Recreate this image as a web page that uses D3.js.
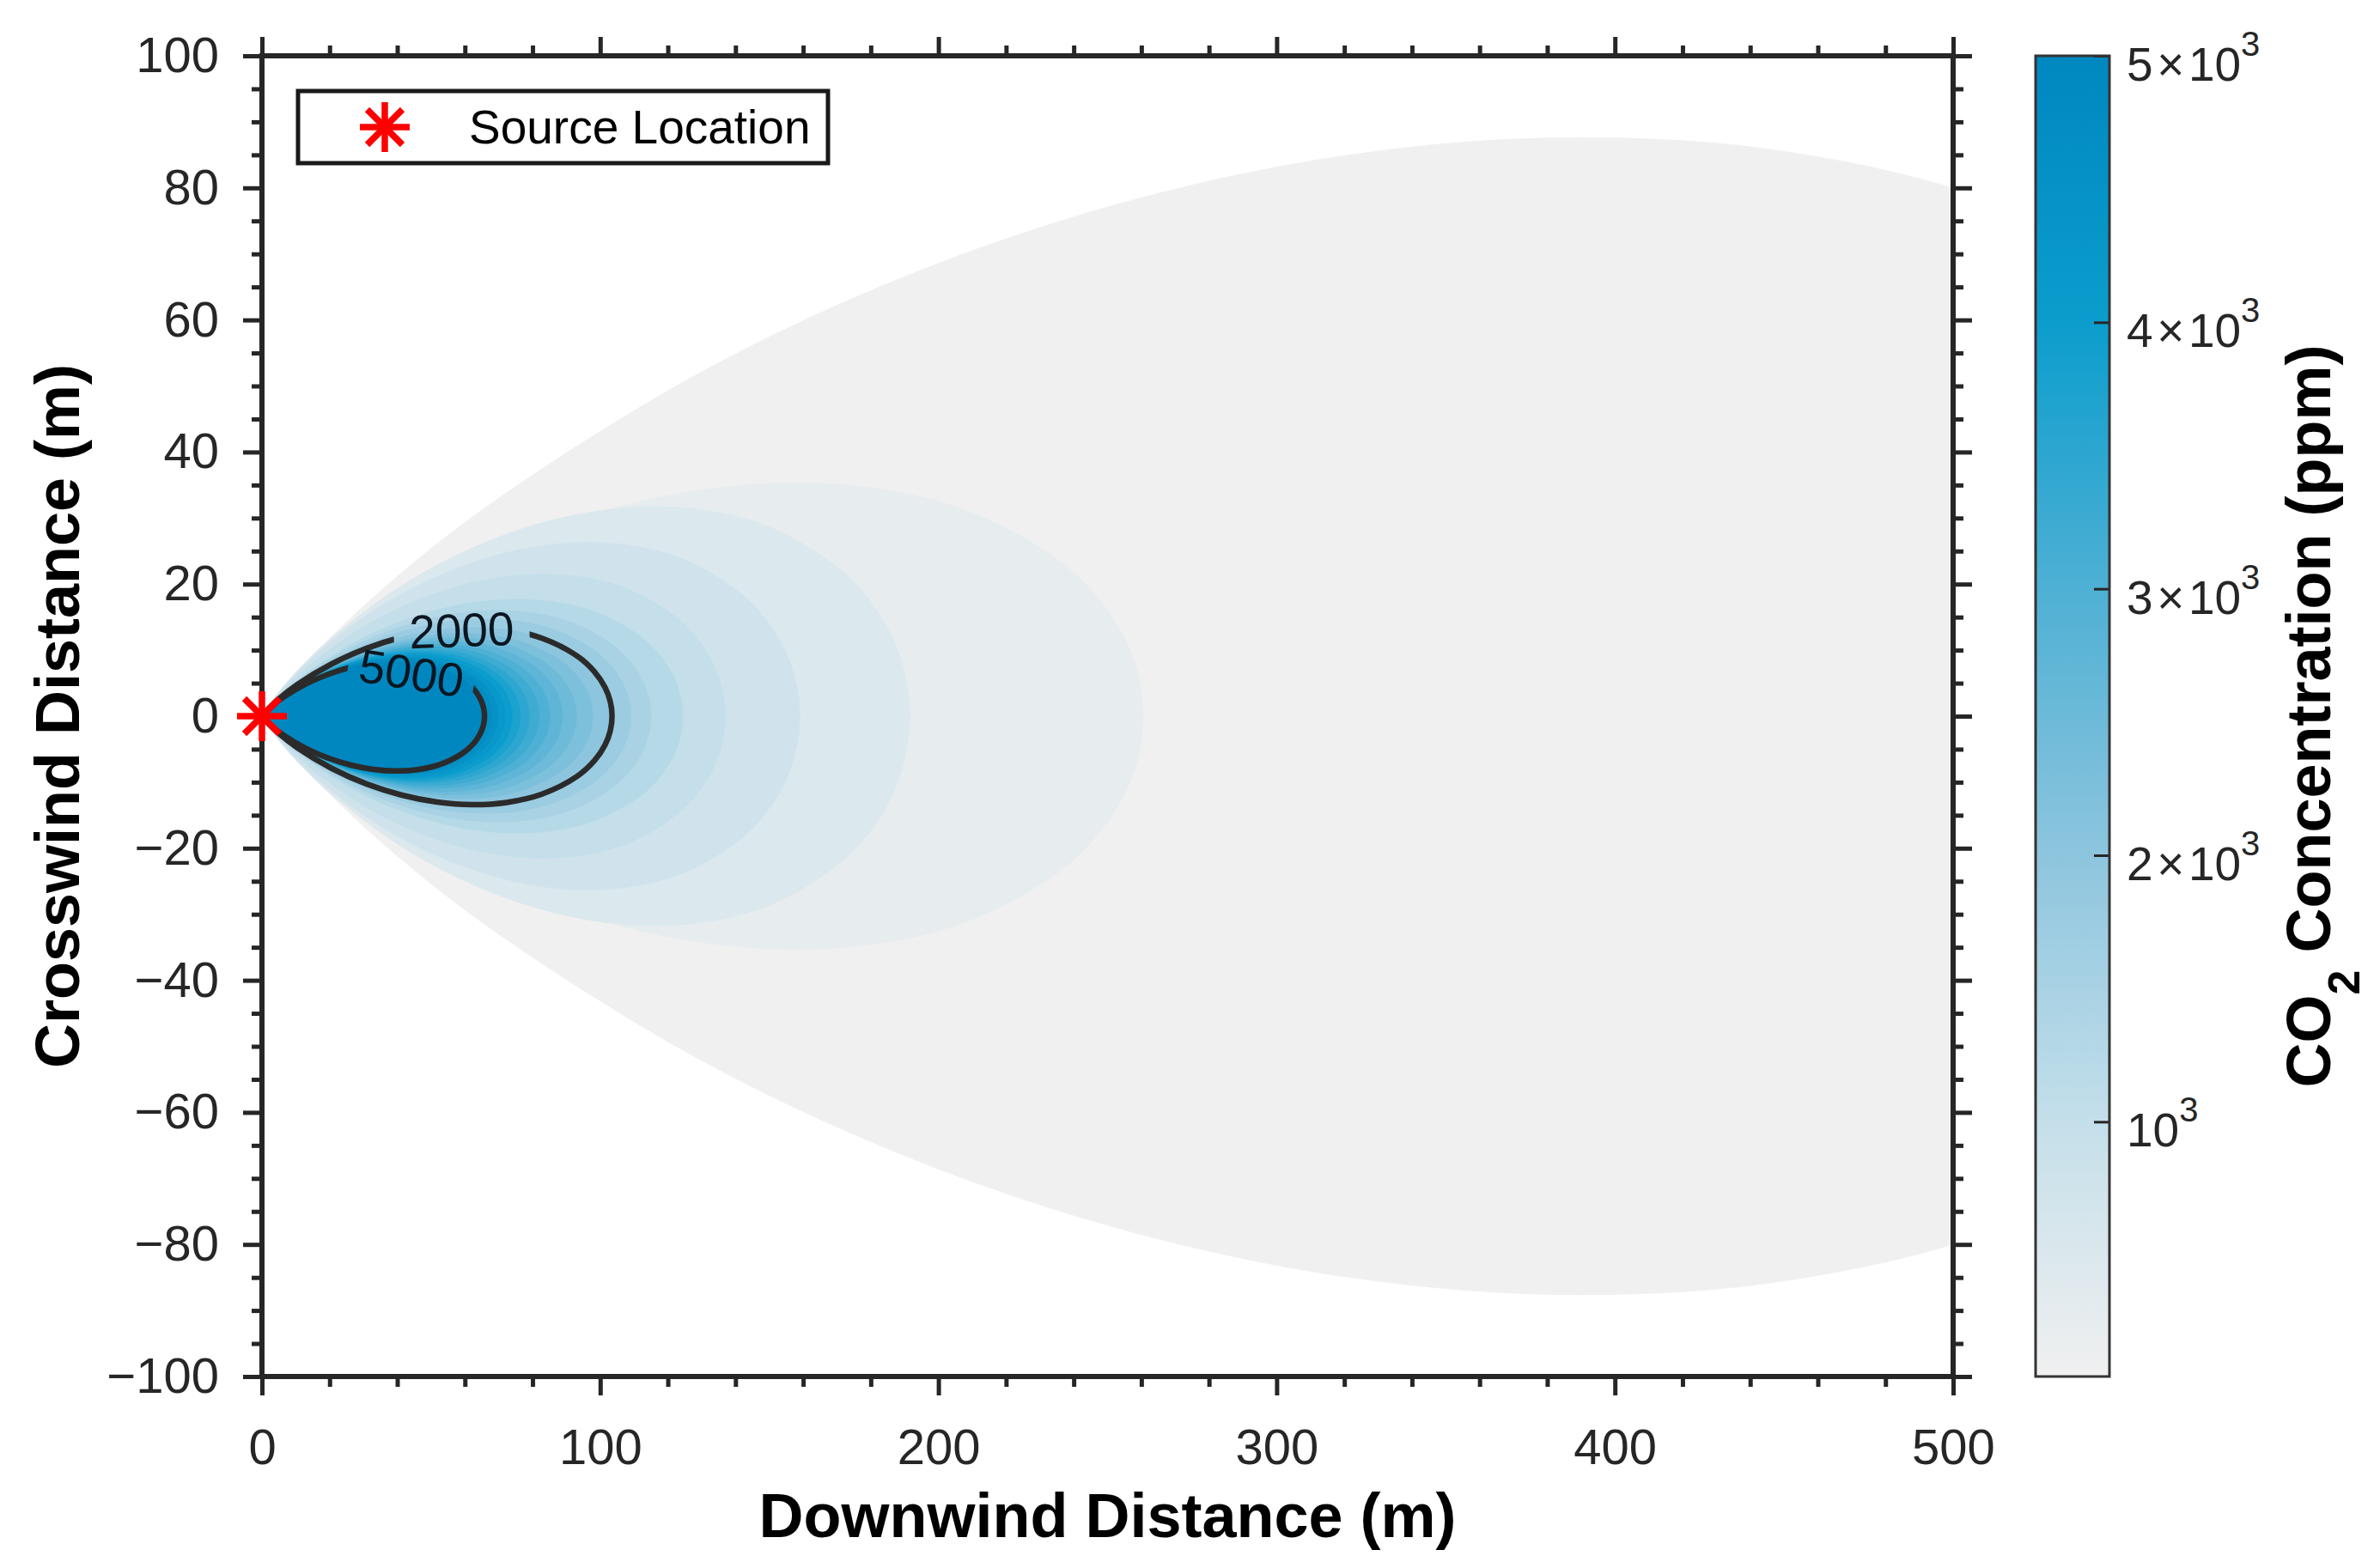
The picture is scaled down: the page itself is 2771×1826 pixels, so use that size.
<!DOCTYPE html>
<html>
<head>
<meta charset="utf-8">
<script src="https://cdn.jsdelivr.net/npm/d3@7"></script>
<style>
  body { margin: 0; background: #fff; }
  text { font-family: "Liberation Sans", Arial, Helvetica, sans-serif; }
</style>
</head>
<body>
<div id="chartDiv"></div>
<script>
// canvas
var SVGwidth = 2771;
var SVGheight = 1826;

// plot box (pixels)
var plotLeft = 305, plotRight = 2274, plotTop = 65, plotBottom = 1603;

// axis ranges and ticks
var xDomain = [0, 500];
var yDomain = [-100, 100];
var xMajor = [0, 100, 200, 300, 400, 500];
var xMinor = [20, 40, 60, 80, 120, 140, 160, 180, 220, 240, 260, 280, 320, 340, 360, 380, 420, 440, 460, 480];
var yMajor = [-100, -80, -60, -40, -20, 0, 20, 40, 60, 80, 100];
var yMinor = [-95, -90, -85, -75, -70, -65, -55, -50, -45, -35, -30, -25, -15, -10, -5,
              5, 10, 15, 25, 30, 35, 45, 50, 55, 65, 70, 75, 85, 90, 95];

// contour levels (ppm) of the filled plume, lowest first
var levels = [44, 250, 500, 750, 1000, 1250, 1500, 1750, 2000, 2250, 2500, 2750,
              3000, 3250, 3500, 3750, 4000, 4250, 4500, 4750, 5000];
// downwind tip of each contour on the centreline (m)
var tipX = [645, 260.5, 191.5, 159, 137, 124.4, 115, 109, 103.5, 97.8, 93, 88.8,
            85.1, 81.9, 79, 76.4, 74, 71.8, 69.8, 68, 65.8];
// widest crosswind half-width of each contour (m)
var halfW = [87.6, 35.3, 31.7, 26.3, 21.5, 17.7, 16.0, 14.7, 13.4, 12.5, 11.9, 11.4,
             10.9, 10.5, 10.1, 9.8, 9.5, 9.2, 8.9, 8.7, 8.3];

// shape of a contour's upper edge, read off the outer boundary and
// normalised: u = x / tip, v = y / half-width
var profileU = [0, 0.005, 0.01, 0.02, 0.05, 0.1, 0.2, 0.3, 0.4, 0.5, 0.6, 0.7, 0.8, 0.9, 0.95, 0.98, 0.995, 1];
var profileV = [0, 0.027, 0.050, 0.092, 0.202, 0.354, 0.592, 0.768, 0.893, 0.971, 1.0, 0.975, 0.881, 0.681, 0.502, 0.325, 0.164, 0];

// labelled contour lines
var lineLevels = [2000, 5000];
var lineLabelPos = [[59, 13.1], [44.2, 6.6]];
var lineLabelRot = [-2, 9];
var lineGapWidth = [158, 148];

// source
var source = [0, 0];

// colormap
var cmapValues = [44, 1000, 2000, 3000, 4000, 5000];
var cmapColors = ["#f0f0f0", "#c4dfea", "#8dc5de", "#4eb0d4", "#0b9dcd", "#0087c0"];

// colorbar
var cbTicks = [1000, 2000, 3000, 4000, 5000];
var cbMantissa = ["", "2", "3", "4", "5"];
var cbLeft = 2370, cbRight = 2456;

var svg = d3.select("#chartDiv").append("svg")
  .attr("width", SVGwidth)
  .attr("height", SVGheight)
  .style("display", "block");

var xScale = d3.scaleLinear().domain(xDomain).range([plotLeft, plotRight]);
var yScale = d3.scaleLinear().domain(yDomain).range([plotBottom, plotTop]);
var colorScale = d3.scaleLinear().domain(cmapValues).range(cmapColors).interpolate(d3.interpolateRgb);

var defs = svg.append("defs");
defs.append("clipPath").attr("id", "plotClip")
  .append("rect")
  .attr("x", plotLeft).attr("y", plotTop)
  .attr("width", plotRight - plotLeft).attr("height", plotBottom - plotTop);

var line = d3.line()
  .x(function (d) { return xScale(d[0]); })
  .y(function (d) { return yScale(d[1]); })
  .curve(d3.curveCatmullRom.alpha(0.5));

function contourPoints(i) {
  var up = profileU.map(function (u, k) { return [u * tipX[i], profileV[k] * halfW[i]]; });
  var down = up.slice(0, -1).reverse().map(function (p) { return [p[0], -p[1]]; });
  return up.concat(down);
}

// filled bands, lowest level first so the higher ones sit on top
var plot = svg.append("g").attr("clip-path", "url(#plotClip)");
levels.forEach(function (lev, i) {
  plot.append("path")
    .attr("class", "band")
    .attr("d", line(contourPoints(i)) + "Z")
    .attr("fill", colorScale(lev))
    .attr("stroke", colorScale(lev))
    .attr("stroke-width", 0.8);
});

// labelled contour lines, broken where the label sits
lineLevels.forEach(function (lev, j) {
  var i = levels.indexOf(lev);
  var lx = xScale(lineLabelPos[j][0]), ly = yScale(lineLabelPos[j][1]);
  var mask = defs.append("mask").attr("id", "mask_" + lev)
    .attr("maskUnits", "userSpaceOnUse")
    .attr("x", 0).attr("y", 0).attr("width", SVGwidth).attr("height", SVGheight);
  mask.append("rect").attr("width", SVGwidth).attr("height", SVGheight).attr("fill", "white");
  mask.append("rect")
    .attr("x", -lineGapWidth[j] / 2).attr("y", -30)
    .attr("width", lineGapWidth[j]).attr("height", 60)
    .attr("fill", "black")
    .attr("transform", "translate(" + lx + "," + ly + ") rotate(" + lineLabelRot[j] + ")");

  plot.append("path")
    .attr("d", line(contourPoints(i)) + "Z")
    .attr("fill", "none")
    .attr("stroke", "#2b2b2b")
    .attr("stroke-width", 6.5)
    .attr("mask", "url(#mask_" + lev + ")");

  plot.append("text")
    .attr("transform", "translate(" + lx + "," + ly + ") rotate(" + lineLabelRot[j] + ")")
    .attr("text-anchor", "middle")
    .attr("dy", "0.36em")
    .style("font-size", "55px")
    .style("fill", "#0b1620")
    .text(lev);
});

// axes: outward ticks on all four sides
function styleAxis(g) {
  g.select(".domain").remove();
  g.selectAll(".tick line").attr("stroke", "#262626").attr("stroke-width", 5);
  g.selectAll(".tick text").style("font-size", "58px").style("fill", "#262626")
    .style("font-family", "'Liberation Sans', Arial, sans-serif");
}
function addAxis(axis, tx, ty) {
  svg.append("g")
    .attr("class", "axis")
    .attr("transform", "translate(" + tx + "," + ty + ")")
    .call(axis)
    .call(styleAxis);
}
addAxis(d3.axisBottom(xScale).tickValues(xMajor).tickSize(22).tickPadding(39), 0, plotBottom);
addAxis(d3.axisBottom(xScale).tickValues(xMinor).tickSize(12).tickFormat(""), 0, plotBottom);
addAxis(d3.axisTop(xScale).tickValues(xMajor).tickSize(22).tickFormat(""), 0, plotTop);
addAxis(d3.axisTop(xScale).tickValues(xMinor).tickSize(12).tickFormat(""), 0, plotTop);
addAxis(d3.axisLeft(yScale).tickValues(yMajor).tickSize(22).tickPadding(28), plotLeft, 0);
addAxis(d3.axisLeft(yScale).tickValues(yMinor).tickSize(12).tickFormat(""), plotLeft, 0);
addAxis(d3.axisRight(yScale).tickValues(yMajor).tickSize(22).tickFormat(""), plotRight, 0);
addAxis(d3.axisRight(yScale).tickValues(yMinor).tickSize(12).tickFormat(""), plotRight, 0);

svg.append("rect")
  .attr("x", plotLeft).attr("y", plotTop)
  .attr("width", plotRight - plotLeft).attr("height", plotBottom - plotTop)
  .attr("fill", "none")
  .attr("stroke", "#262626")
  .attr("stroke-width", 6);

// asterisk marker (plus + cross)
function drawStar(g, cx, cy, size) {
  var r = size / 2, d = r * Math.SQRT1_2;
  var segs = [[-r, 0, r, 0], [0, -r, 0, r], [-d, -d, d, d], [-d, d, d, -d]];
  segs.forEach(function (s) {
    g.append("line")
      .attr("x1", cx + s[0]).attr("y1", cy + s[1])
      .attr("x2", cx + s[2]).attr("y2", cy + s[3])
      .attr("stroke", "#ff0000")
      .attr("stroke-width", 7.5)
      .attr("stroke-linecap", "butt");
  });
}
drawStar(svg, xScale(source[0]), yScale(source[1]), 58);

// legend
var legend = svg.append("g").attr("class", "legend");
legend.append("rect")
  .attr("x", 347).attr("y", 106)
  .attr("width", 617).attr("height", 84)
  .attr("fill", "#fff")
  .attr("stroke", "#1a1a1a")
  .attr("stroke-width", 5);
drawStar(legend, 448, 148, 58);
legend.append("text")
  .attr("x", 546).attr("y", 167)
  .style("font-size", "55px")
  .style("fill", "#000")
  .text("Source Location");

// axis titles
svg.append("text")
  .attr("x", (plotLeft + plotRight) / 2).attr("y", 1790)
  .attr("text-anchor", "middle")
  .style("font-size", "72px").style("font-weight", "bold")
  .text("Downwind Distance (m)");
svg.append("text")
  .attr("transform", "translate(92," + (plotTop + plotBottom) / 2 + ") rotate(-90)")
  .attr("text-anchor", "middle")
  .style("font-size", "72px").style("font-weight", "bold")
  .text("Crosswind Distance (m)");

// colorbar
var cbMin = cmapValues[0], cbMax = cmapValues[cmapValues.length - 1];
var cbScale = d3.scaleLinear().domain([cbMin, cbMax]).range([plotBottom, plotTop]);
var grad = defs.append("linearGradient").attr("id", "cbGrad")
  .attr("x1", 0).attr("y1", 1).attr("x2", 0).attr("y2", 0);
cmapValues.forEach(function (v, k) {
  grad.append("stop")
    .attr("offset", (v - cbMin) / (cbMax - cbMin))
    .attr("stop-color", cmapColors[k]);
});
svg.append("rect")
  .attr("x", cbLeft).attr("y", plotTop)
  .attr("width", cbRight - cbLeft).attr("height", plotBottom - plotTop)
  .attr("fill", "url(#cbGrad)");

var cbAxis = svg.append("g")
  .attr("transform", "translate(" + cbRight + ",0)")
  .call(d3.axisLeft(cbScale).tickValues(cbTicks).tickSize(18).tickFormat(""));
cbAxis.select(".domain").remove();
cbAxis.selectAll(".tick line").attr("stroke", "#262626").attr("stroke-width", 3);

svg.append("rect")
  .attr("x", cbLeft).attr("y", plotTop)
  .attr("width", cbRight - cbLeft).attr("height", plotBottom - plotTop)
  .attr("fill", "none")
  .attr("stroke", "#333")
  .attr("stroke-width", 3);

cbTicks.forEach(function (v, k) {
  var t = svg.append("text")
    .attr("x", cbRight + 20)
    .attr("y", cbScale(v) + 29)
    .style("font-size", "55px")
    .style("fill", "#262626");
  var base = cbMantissa[k] ? cbMantissa[k] + "\u200a\u00d7\u200a10" : "10";
  t.append("tspan").text(base);
  t.append("tspan").attr("dy", -29).style("font-size", "40px").text("3");
});

var cbLabel = svg.append("text")
  .attr("transform", "translate(2713," + (plotTop + plotBottom) / 2 + ") rotate(-90)")
  .attr("text-anchor", "middle")
  .style("font-size", "72px").style("font-weight", "bold");
cbLabel.append("tspan").text("CO");
cbLabel.append("tspan").attr("dy", 34).style("font-size", "52px").text("2");
cbLabel.append("tspan").attr("dy", -34).text(" Concentration (ppm)");
</script>
</body>
</html>
